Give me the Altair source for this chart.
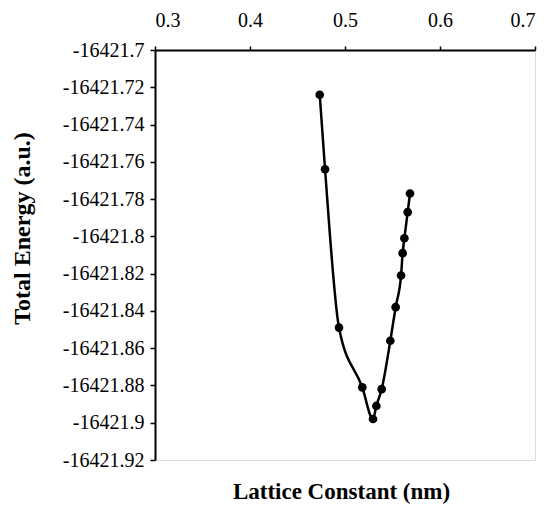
import altair as alt
import pandas as pd

lattice = [0.4734, 0.479, 0.4937, 0.5182, 0.5295, 0.533, 0.5386, 0.5477,
           0.5533, 0.559, 0.5607, 0.5625, 0.566, 0.5684]
energy = [-16421.724, -16421.764, -16421.849, -16421.881, -16421.898,
          -16421.891, -16421.882, -16421.856, -16421.838, -16421.821,
          -16421.809, -16421.801, -16421.787, -16421.777]
x_ticks = [0.3, 0.4, 0.5, 0.6, 0.7]
y_ticks = [-16421.92, -16421.9, -16421.88, -16421.86, -16421.84, -16421.82,
           -16421.8, -16421.78, -16421.76, -16421.74, -16421.72, -16421.7]

df = pd.DataFrame({"x": lattice, "y": energy})

FONT = "Liberation Serif"

x_enc = alt.X(
    "x:Q",
    scale=alt.Scale(domain=[0.3, 0.7], nice=False, zero=False),
    axis=alt.Axis(
        orient="top", values=x_ticks, format=".1f", grid=False,
        labelOverlap=False,
        title="Lattice Constant (nm)", titleFont=FONT, titleFontSize=23,
        titleFontWeight="bold", titleColor="black",
        titleX=186, titleY=441, titleBaseline="middle", titleAlign="center",
        labelFont=FONT, labelFontSize=20, labelColor="black", labelPadding=16,
        tickSize=4, tickColor="black", tickWidth=1.5,
        domainColor="black", domainWidth=2,
    ),
)
y_enc = alt.Y(
    "y:Q",
    scale=alt.Scale(domain=[-16421.92, -16421.7], nice=False, zero=False),
    axis=alt.Axis(
        values=y_ticks, grid=False, labelOverlap=False,
        labelExpr="'-' + format(abs(datum.value), '.2~f')",
        title="Total Energy (a.u.)", titleFont=FONT, titleFontSize=24,
        titleFontWeight="bold", titleColor="black",
        titleX=-133, titleY=178, titleAngle=270, titleAlign="center",
        titleBaseline="middle",
        labelFont=FONT, labelFontSize=20, labelColor="black", labelPadding=6,
        tickSize=5, tickColor="black", tickWidth=1.5,
        domainColor="black", domainWidth=2,
    ),
)

base = alt.Chart(df).encode(x=x_enc, y=y_enc)
line = base.mark_line(color="black", strokeWidth=2.5, interpolate="monotone").encode(
    order="x:Q"
)
pts = base.mark_circle(color="black", opacity=1, size=75)

chart = (
    alt.layer(line, pts)
    .properties(
        width=380, height=410,
        autosize=alt.AutoSizeParams(type="none"),
        padding={"left": 147, "top": 42, "right": 6, "bottom": 44},
    )
    .configure_view(stroke="black", strokeWidth=2)
    .configure_axis(labelOverlap=False)
    .configure(background="white")
)

chart.save("out.html", embed_options={"renderer": "svg", "actions": False})
